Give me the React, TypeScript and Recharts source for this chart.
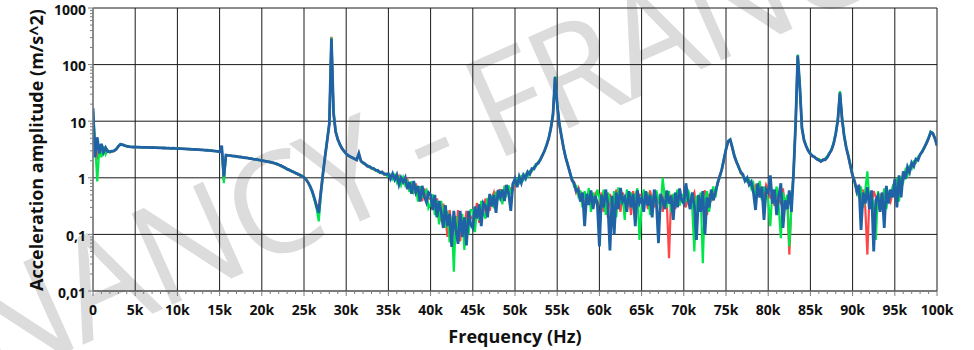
import React from "react";
import { LineChart, Line, XAxis, YAxis, CartesianGrid } from "recharts";

// Acceleration spectra of the three sensors, one value every 250 Hz, 0 to 100 kHz
const STEP_HZ = 250;

const redAmp = [
  16, 3.0, 2.1, 3.9, 2.5, 3.3, 2.7, 3.0, 2.8, 2.9, 2.95, 3.2, 3.55, 3.85, 3.8, 3.7, 3.6, 3.55, 3.5, 3.47,
  3.47, 3.5, 3.46, 3.48, 3.44, 3.46, 3.42, 3.44, 3.4, 3.42, 3.38, 3.4, 3.36, 3.38, 3.34, 3.36, 3.32, 3.34, 3.3, 3.32,
  3.27, 3.3, 3.25, 3.27, 3.22, 3.24, 3.19, 3.21, 3.16, 3.18, 3.13, 3.14, 3.09, 3.1, 3.05, 3.06, 3.0, 3.01, 2.95, 2.96,
  2.92, 3.6, 0.9, 2.48, 2.46, 2.48, 2.41, 2.43, 2.36, 2.37, 2.31, 2.32, 2.25, 2.26, 2.19, 2.2, 2.13, 2.14, 2.07, 2.08,
  2.04, 1.97, 1.98, 1.9, 1.91, 1.83, 1.83, 1.73, 1.72, 1.61, 1.59, 1.47, 1.44, 1.35, 1.34, 1.24, 1.24, 1.14, 1.14, 1.04,
  1.04, 0.9, 0.84, 0.66, 0.58, 0.41, 0.33, 0.3, 0.6, 1.25, 2.35, 4.5, 8.8, 310, 13, 6.4, 4.7, 4.0, 3.25, 2.95,
  2.66, 2.46, 2.38, 2.24, 2.18, 2.05, 2.6, 2.0, 1.8, 1.74, 1.58, 1.6, 1.45, 1.48, 1.33, 1.37, 1.21, 1.28, 1.13, 1.18,
  1.12, 0.99, 1.1, 1.09, 0.88, 1.06, 0.78, 0.9, 0.77, 0.93, 0.69, 0.74, 0.53, 0.79, 0.57, 0.65, 0.39, 0.65, 0.42, 0.44,
  0.42, 0.43, 0.29, 0.43, 0.3, 0.17, 0.35, 0.2, 0.09, 0.27, 0.14, 0.21, 0.09, 0.27, 0.075, 0.18, 0.135, 0.26, 0.12, 0.21,
  0.19, 0.24, 0.36, 0.16, 0.31, 0.23, 0.43, 0.34, 0.26, 0.43, 0.55, 0.35, 0.47, 0.63, 0.42, 0.66, 0.55, 0.67, 0.64, 0.61,
  0.88, 0.8, 0.98, 0.9, 1.06, 1.02, 1.18, 1.22, 1.4, 1.48, 1.68, 1.86, 2.15, 2.45, 3.05, 3.75, 4.9, 7.4, 12.5, 58,
  19, 8.8, 5.4, 3.3, 2.25, 1.65, 1.3, 0.88, 0.84, 0.55, 0.66, 0.42, 0.5, 0.35, 0.45, 0.55, 0.38, 0.45, 0.52, 0.3,
  0.38, 0.55, 0.25, 0.45, 0.2, 0.52, 0.35, 0.3, 0.62, 0.38, 0.25, 0.55, 0.4, 0.3, 0.48, 0.22, 0.58, 0.35, 0.42, 0.5,
  0.5, 0.35, 0.45, 0.28, 0.6, 0.4, 0.3, 0.52, 0.38, 0.45, 0.25, 0.58, 0.33, 0.038, 0.5, 0.42, 0.28, 0.55, 0.36, 0.44,
  0.42, 0.3, 0.5, 0.36, 0.45, 0.55, 0.28, 0.4, 0.32, 0.48, 0.6, 0.22, 0.52, 0.38, 0.55, 0.6, 0.75, 1.1, 1.35, 2.0,
  3.1, 4.3, 4.6, 3.3, 2.35, 1.85, 1.6, 1.2, 1.1, 0.95, 0.9, 0.8, 0.78, 0.62, 0.72, 0.5, 0.66, 0.58, 0.48, 0.75,
  0.62, 0.45, 0.5, 0.32, 0.58, 0.4, 0.35, 0.65, 0.28, 0.48, 0.044, 0.35, 1.15, 8.5, 140, 38, 7.3, 4.5, 3.55, 2.95,
  2.6, 2.4, 2.35, 2.12, 2.15, 1.92, 2.12, 2.05, 2.35, 2.65, 3.05, 3.9, 5.8, 10, 31, 10.5, 5.3, 3.3, 2.3, 1.55,
  1.05, 0.88, 0.55, 0.68, 0.4, 0.62, 0.3, 0.044, 0.5, 0.35, 0.58, 0.45, 0.28, 0.52, 0.4, 0.6, 0.45, 0.5, 0.38, 0.55,
  0.8, 0.7, 0.95, 0.9, 1.15, 1.1, 1.4, 1.4, 1.7, 1.75, 2.05, 2.2, 2.55, 2.95, 3.4, 4.0, 4.9, 6.3, 6.0, 4.9,
  3.7,
];

const greenAmp = [
  15, 4.2, 0.86, 3.3, 2.3, 3.6, 2.6, 3.1, 2.85, 2.9, 3.05, 3.25, 3.65, 3.95, 3.8, 3.7, 3.6, 3.58, 3.5, 3.48,
  3.52, 3.47, 3.5, 3.45, 3.47, 3.43, 3.46, 3.41, 3.44, 3.39, 3.42, 3.37, 3.4, 3.35, 3.38, 3.33, 3.36, 3.31, 3.34, 3.29,
  3.31, 3.26, 3.29, 3.23, 3.26, 3.2, 3.24, 3.17, 3.2, 3.14, 3.17, 3.1, 3.13, 3.06, 3.09, 3.02, 3.05, 2.97, 3.0, 2.92,
  2.88, 3.55, 0.8, 2.45, 2.5, 2.44, 2.45, 2.39, 2.4, 2.33, 2.35, 2.28, 2.28, 2.22, 2.23, 2.16, 2.16, 2.1, 2.11, 2.03,
  2.0, 2.01, 1.94, 1.95, 1.87, 1.88, 1.78, 1.79, 1.67, 1.67, 1.54, 1.53, 1.39, 1.4, 1.29, 1.3, 1.19, 1.2, 1.09, 1.1,
  1.0, 0.95, 0.8, 0.68, 0.54, 0.4, 0.28, 0.17, 0.5, 1.15, 2.5, 4.8, 9.5, 300, 15, 6.8, 4.9, 3.8, 3.3, 2.9,
  2.62, 2.5, 2.34, 2.28, 2.14, 2.1, 2.55, 1.95, 1.86, 1.7, 1.66, 1.52, 1.52, 1.4, 1.4, 1.28, 1.29, 1.19, 1.21, 1.1,
  1.06, 1.13, 0.95, 1.11, 0.83, 1.0, 0.74, 1.01, 0.74, 0.85, 0.56, 0.87, 0.57, 0.73, 0.38, 0.71, 0.47, 0.55, 0.61, 0.29,
  0.34, 0.51, 0.22, 0.4, 0.15, 0.39, 0.23, 0.13, 0.26, 0.072, 0.2, 0.022, 0.21, 0.09, 0.14, 0.23, 0.053, 0.19, 0.1, 0.27,
  0.27, 0.11, 0.29, 0.18, 0.39, 0.24, 0.19, 0.44, 0.33, 0.49, 0.29, 0.57, 0.4, 0.6, 0.34, 0.72, 0.52, 0.73, 0.51, 0.78,
  0.78, 0.95, 0.82, 1.05, 0.92, 1.15, 1.05, 1.32, 1.3, 1.58, 1.6, 1.92, 2.05, 2.55, 2.95, 3.9, 5.1, 7.8, 14, 62,
  21, 9.3, 5.7, 3.5, 2.35, 1.75, 1.2, 1.0, 0.7, 0.72, 0.48, 0.6, 0.3, 0.58, 0.4, 0.66, 0.25, 0.55, 0.35, 0.62,
  0.45, 0.28, 0.62, 0.22, 0.55, 0.4, 0.3, 0.58, 0.2, 0.68, 0.35, 0.5, 0.18, 0.62, 0.4, 0.55, 0.28, 0.48, 0.65, 0.08,
  0.3, 0.62, 0.38, 0.55, 0.22, 0.48, 0.35, 0.6, 0.42, 0.28, 1.0, 0.45, 0.3, 0.58, 0.25, 0.52, 0.4, 0.62, 0.32, 0.5,
  0.5, 0.38, 0.62, 0.45, 0.3, 0.05, 0.48, 0.35, 0.55, 0.031, 0.4, 0.58, 0.25, 0.5, 0.7, 0.45, 0.85, 1.0, 1.45, 2.2,
  3.3, 4.5, 4.8, 3.5, 2.5, 1.95, 1.5, 1.3, 1.05, 1.0, 0.85, 0.92, 0.65, 0.8, 0.5, 0.62, 0.88, 0.4, 0.7, 0.55,
  0.4, 0.14, 0.62, 0.45, 0.7, 0.3, 0.086, 0.55, 0.35, 0.5, 0.061, 0.3, 1.3, 10, 150, 42, 7.8, 4.7, 3.7, 3.05,
  2.7, 2.48, 2.28, 2.22, 2.1, 2.05, 2.0, 2.2, 2.4, 2.75, 3.2, 4.2, 6.2, 11, 34, 12, 5.8, 3.5, 2.5, 1.7,
  1.15, 0.8, 0.62, 0.45, 0.7, 0.3, 0.6, 1.3, 0.38, 0.52, 0.32, 0.08, 0.58, 0.42, 0.35, 0.65, 0.28, 0.55, 0.48, 0.7,
  0.6, 1.0, 0.38, 1.05, 0.85, 1.35, 1.1, 1.6, 1.45, 1.95, 1.85, 2.35, 2.5, 3.0, 3.35, 4.2, 5.1, 6.6, 6.2, 5.1,
  3.8,
];

const blueAmp = [
  17, 2.3, 5.2, 2.7, 4.0, 2.8, 3.4, 2.9, 2.9, 2.95, 3.0, 3.2, 3.6, 3.9, 3.85, 3.72, 3.62, 3.56, 3.52, 3.5,
  3.5, 3.48, 3.49, 3.46, 3.46, 3.44, 3.45, 3.42, 3.43, 3.4, 3.41, 3.38, 3.39, 3.36, 3.37, 3.34, 3.35, 3.32, 3.33, 3.3,
  3.29, 3.28, 3.27, 3.25, 3.25, 3.22, 3.22, 3.19, 3.18, 3.16, 3.15, 3.12, 3.11, 3.08, 3.07, 3.04, 3.02, 2.99, 2.97, 2.94,
  2.9, 3.7, 1.05, 2.52, 2.48, 2.46, 2.43, 2.41, 2.38, 2.35, 2.33, 2.3, 2.26, 2.24, 2.21, 2.18, 2.14, 2.12, 2.09, 2.05,
  2.02, 1.99, 1.96, 1.93, 1.9, 1.86, 1.81, 1.76, 1.7, 1.64, 1.57, 1.5, 1.42, 1.38, 1.32, 1.27, 1.22, 1.17, 1.12, 1.07,
  1.02, 0.93, 0.82, 0.7, 0.56, 0.43, 0.31, 0.24, 0.55, 1.2, 2.4, 4.6, 9.0, 290, 14, 6.5, 4.8, 3.9, 3.3, 2.95,
  2.65, 2.48, 2.36, 2.26, 2.16, 2.08, 2.7, 1.98, 1.84, 1.76, 1.62, 1.58, 1.49, 1.46, 1.36, 1.34, 1.24, 1.26, 1.17, 1.15,
  1.18, 0.95, 1.18, 0.93, 1.13, 0.76, 1.01, 0.84, 1.01, 0.63, 0.84, 0.52, 0.88, 0.56, 0.72, 0.38, 0.72, 0.47, 0.37, 0.55,
  0.5, 0.27, 0.5, 0.2, 0.39, 0.25, 0.13, 0.33, 0.14, 0.23, 0.06, 0.26, 0.12, 0.068, 0.26, 0.09, 0.2, 0.064, 0.26, 0.15,
  0.13, 0.31, 0.19, 0.34, 0.14, 0.36, 0.32, 0.2, 0.52, 0.31, 0.5, 0.24, 0.61, 0.45, 0.62, 0.39, 0.75, 0.52, 0.26, 0.78,
  0.96, 0.68, 1.04, 0.81, 1.12, 0.97, 1.27, 1.15, 1.45, 1.43, 1.73, 1.8, 2.1, 2.5, 3.0, 3.8, 5.0, 7.5, 13, 60,
  20, 9.0, 5.5, 3.4, 2.3, 1.7, 1.25, 0.92, 0.8, 0.58, 0.62, 0.38, 0.55, 0.14, 0.52, 0.33, 0.6, 0.28, 0.48, 0.36,
  0.061, 0.5, 0.3, 0.62, 0.35, 0.052, 0.48, 0.1, 0.55, 0.28, 0.66, 0.38, 0.45, 0.25, 0.58, 0.3, 0.52, 0.14, 0.6, 0.36,
  0.45, 0.25, 0.58, 0.32, 0.5, 0.2, 0.62, 0.38, 0.07, 0.52, 0.4, 0.28, 0.6, 0.35, 0.48, 0.18, 0.55, 0.3, 0.65, 0.4,
  0.35, 0.8, 0.42, 0.28, 0.55, 0.32, 0.08, 0.5, 0.25, 0.58, 0.1, 0.45, 0.3, 0.62, 0.4, 0.55, 0.8, 1.05, 1.4, 2.1,
  3.2, 4.4, 4.7, 3.4, 2.4, 1.9, 1.55, 1.25, 1.15, 0.88, 1.0, 0.75, 0.85, 0.55, 0.27, 0.8, 0.45, 0.7, 0.18, 0.62,
  0.55, 1.1, 0.35, 0.62, 0.22, 0.48, 0.8, 0.13, 0.4, 0.28, 0.6, 0.25, 1.2, 9.0, 145, 40, 7.5, 4.6, 3.6, 3.0,
  2.65, 2.42, 2.32, 2.15, 2.05, 1.95, 2.08, 2.1, 2.3, 2.7, 3.1, 4.0, 6.0, 10.5, 32, 11, 5.5, 3.4, 2.4, 1.6,
  1.1, 0.85, 0.58, 0.75, 0.12, 0.55, 0.35, 0.68, 0.28, 0.6, 0.05, 0.4, 0.48, 0.25, 0.55, 0.13, 0.72, 0.35, 0.62, 0.45,
  0.95, 0.3, 1.1, 0.45, 1.3, 0.95, 1.55, 1.25, 1.85, 1.6, 2.15, 2.05, 2.6, 2.9, 3.45, 4.1, 5.0, 6.4, 6.1, 5.0,
  3.7,
];

const freqTicks = [
  0, 5000, 10000, 15000, 20000, 25000, 30000, 35000, 40000, 45000, 50000,
  55000, 60000, 65000, 70000, 75000, 80000, 85000, 90000, 95000, 100000,
];
const ampTicks = [0.01, 0.1, 1, 10, 100, 1000];
const ampMinorSteps = [2, 3, 4, 5, 6, 7, 8, 9];

const data = blueAmp.map((blue, i) => ({
  f: i * STEP_HZ,
  red: redAmp[i],
  green: greenAmp[i],
  blue,
}));

// small ticks every 1 kHz and at 2..9 of every decade
const freqAllTicks = Array.from({ length: 101 }, (_, i) => i * 1000);
const ampAllTicks = [
  ...ampTicks,
  ...ampTicks.slice(0, -1).flatMap((d) => ampMinorSteps.map((m) => d * m)),
];

const FONT = "'Open Sans', 'Noto Sans', sans-serif";
const TICK_COLOR = "#7d7d7d";

const fmtFreq = (v: number) => (v === 0 ? "0" : `${v / 1000}k`);
const fmtAmp = (v: number) => String(v).replace(".", ",");
const isMajorAmp = (v: number) => ampTicks.some((t) => Math.abs(t - v) < t * 1e-6);

const FreqTick = (props: any) => {
  const { x, y, payload } = props;
  const major = payload.value % 5000 === 0;
  return (
    <g>
      <line x1={x} x2={x} y1={y} y2={y + (major ? 5 : 3)} stroke={TICK_COLOR} />
      {major && (
        <text
          x={x}
          y={y + 14}
          dy="0.71em"
          textAnchor="middle"
          fontFamily={FONT}
          fontWeight={700}
          fontSize={14}
          fill="#111"
        >
          {fmtFreq(payload.value)}
        </text>
      )}
    </g>
  );
};

const AmpTick = (props: any) => {
  const { x, y, payload } = props;
  const major = isMajorAmp(payload.value);
  return (
    <g>
      <line x1={x - (major ? 5 : 3)} x2={x} y1={y} y2={y} stroke={TICK_COLOR} />
      {major && (
        <text
          x={x - 7}
          y={y + 1}
          textAnchor="end"
          dominantBaseline="central"
          fontFamily={FONT}
          fontWeight={700}
          fontSize={14}
          fill="#111"
        >
          {fmtAmp(payload.value)}
        </text>
      )}
    </g>
  );
};

export default function App() {
  return (
    <div
      style={{
        position: "absolute",
        left: 0,
        top: 0,
        width: 974,
        height: 350,
        background: "#fff",
        overflow: "hidden",
        fontFamily: FONT,
      }}
    >
      {/* watermark and axis titles, beneath the plot */}
      <svg width={974} height={350} style={{ position: "absolute", left: 0, top: 0 }}>
        <text
          x={-10}
          y={386}
          transform="rotate(-24 -10 386)"
          fontFamily={FONT}
          fontSize={140}
          letterSpacing={-4}
          fill="#dcdcdc"
        >
          NANCY - FRANCE
        </text>
        <text
          transform="translate(36 150) rotate(-90)"
          textAnchor="middle"
          dominantBaseline="central"
          fontFamily={FONT}
          fontWeight={700}
          fontSize={18}
          fill="#111"
        >
          Acceleration amplitude (m/s^2)
        </text>
        <text
          x={515}
          y={336}
          textAnchor="middle"
          dominantBaseline="central"
          fontFamily={FONT}
          fontWeight={700}
          fontSize={18}
          fill="#111"
        >
          Frequency (Hz)
        </text>
      </svg>

      <div style={{ position: "absolute", left: 0, top: 0 }}>
        <LineChart
          width={974}
          height={350}
          data={data}
          margin={{ top: 8, right: 37, bottom: 29, left: 0 }}
        >
          <CartesianGrid stroke="#1a1a1a" horizontalValues={ampTicks} verticalValues={freqTicks} />
          <XAxis
            dataKey="f"
            type="number"
            domain={[0, 100000]}
            ticks={freqAllTicks}
            interval={0}
            height={30}
            tickSize={0}
            tickMargin={0}
            tickLine={false}
            tick={<FreqTick />}
            axisLine={{ stroke: "#666" }}
            allowDataOverflow
          />
          <YAxis
            type="number"
            scale="log"
            domain={[0.01, 1000]}
            ticks={ampAllTicks}
            interval={0}
            width={93}
            tickSize={0}
            tickMargin={0}
            tickLine={false}
            tick={<AmpTick />}
            axisLine={{ stroke: "#8a8a8a" }}
            allowDataOverflow
          />
          <Line
            type="linear"
            dataKey="red"
            stroke="#ff4646"
            strokeWidth={2.2}
            dot={false}
            isAnimationActive={false}
          />
          <Line
            type="linear"
            dataKey="green"
            stroke="#00e64a"
            strokeWidth={2.2}
            dot={false}
            isAnimationActive={false}
          />
          <Line
            type="linear"
            dataKey="blue"
            stroke="#1f63a6"
            strokeWidth={2.8}
            dot={false}
            isAnimationActive={false}
          />
        </LineChart>
      </div>
    </div>
  );
}
